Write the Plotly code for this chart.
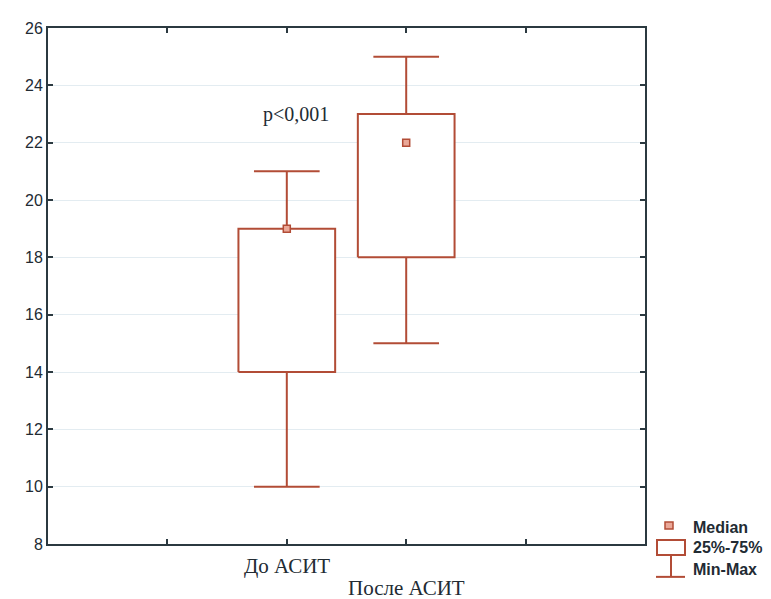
import plotly.graph_objects as go

# ---- data ----
groups = ["До АСИТ", "После АСИТ"]
positions = [2, 3]
mins = [10, 15]
q1 = [14, 18]
medians = [19, 22]
q3 = [19, 23]
maxs = [21, 25]
y_ticks = [8, 10, 12, 14, 16, 18, 20, 22, 24, 26]
x_ticks = [1, 2, 3, 4]
p_text = "p<0,001"
legend_labels = ["Median", "25%-75%", "Min-Max"]

BROWN = "#b24c36"
PINK = "#eaa898"
AXIS = "#2b3940"
TXT = "#222b33"
BOX_W = 0.81
CAP_W = 0.55

fig = go.Figure()
for i, g in enumerate(groups):
    p = positions[i]
    hb, hc = BOX_W / 2, CAP_W / 2
    fig.add_trace(go.Scatter(
        x=[p, p, None, p - hc, p + hc, None, p, p, None, p - hc, p + hc],
        y=[q3[i], maxs[i], None, maxs[i], maxs[i], None, q1[i], mins[i], None, mins[i], mins[i]],
        mode="lines", line=dict(color=BROWN, width=2), showlegend=False, hoverinfo="skip"))
    fig.add_trace(go.Scatter(
        x=[p - hb, p + hb, p + hb, p - hb, p - hb],
        y=[q1[i], q1[i], q3[i], q3[i], q1[i]],
        mode="lines", fill="toself", fillcolor="white",
        line=dict(color=BROWN, width=2), showlegend=False, name=g))
    fig.add_trace(go.Scatter(
        x=[p], y=[medians[i]], mode="markers",
        marker=dict(symbol="square", size=7, color=PINK, line=dict(color=BROWN, width=1.5)),
        showlegend=False, name=g))

# page body has an 8px margin
OFF = 8
L, R, T, B = 48, 645, 26, 544
W, H = 771 - OFF, 599 - OFF
def px(x):
    return (x - L) / (R - L)
def py(y):
    return (B - y) / (B - T)

shapes = [
    dict(type="rect", xref="paper", yref="paper", x0=px(665), x1=px(673), y0=py(529), y1=py(522),
         fillcolor=PINK, line=dict(color=BROWN, width=1.5)),
    dict(type="rect", xref="paper", yref="paper", x0=px(657), x1=px(685), y0=py(555), y1=py(540),
         fillcolor="white", line=dict(color=BROWN, width=2)),
    dict(type="line", xref="paper", yref="paper", x0=px(671), x1=px(671), y0=py(577), y1=py(555),
         line=dict(color=BROWN, width=2)),
    dict(type="line", xref="paper", yref="paper", x0=px(656), x1=px(685), y0=py(577), y1=py(577),
         line=dict(color=BROWN, width=2)),
]

annotations = [
    dict(x=2.08, y=23, xref="x", yref="y", text=p_text, showarrow=False,
         font=dict(family="Liberation Serif", size=20, color=TXT)),
]
for lbl, yy in zip(legend_labels, [527, 548, 570]):
    annotations.append(dict(x=px(691), y=py(yy), xref="paper", yref="paper", text="<b>" + lbl + "</b>",
                            showarrow=False, xanchor="left", yanchor="middle",
                            font=dict(family="Liberation Sans", size=16, color=TXT)))
for g, p, shift in zip(groups, positions, [-8, -30]):
    annotations.append(dict(x=p, y=0, xref="x", yref="paper", text=g, showarrow=False,
                            yanchor="top", yshift=shift,
                            font=dict(family="Liberation Serif", size=21, color=TXT)))

fig.update_layout(
    width=W, height=H,
    margin=dict(l=L - OFF, r=771 - R, t=T - OFF, b=599 - B),
    paper_bgcolor="white", plot_bgcolor="white",
    shapes=shapes, annotations=annotations,
    xaxis=dict(range=[0, 5], tickvals=x_ticks, ticktext=["" for _ in x_ticks],
               showgrid=False, zeroline=False, showline=True, linecolor=AXIS, linewidth=2,
               mirror="ticks", ticks="inside", ticklen=5, tickcolor=AXIS, tickwidth=1.5),
    yaxis=dict(range=[8, 26], tickvals=y_ticks, showgrid=True, gridcolor="#e3ecf1", gridwidth=1,
               zeroline=False, showline=True, linecolor=AXIS, linewidth=2,
               mirror="ticks", ticks="inside", ticklen=5, tickcolor=AXIS, tickwidth=1.5,
               tickfont=dict(family="Liberation Sans", size=16, color=TXT)),
)

fig.write_html("out.html")
